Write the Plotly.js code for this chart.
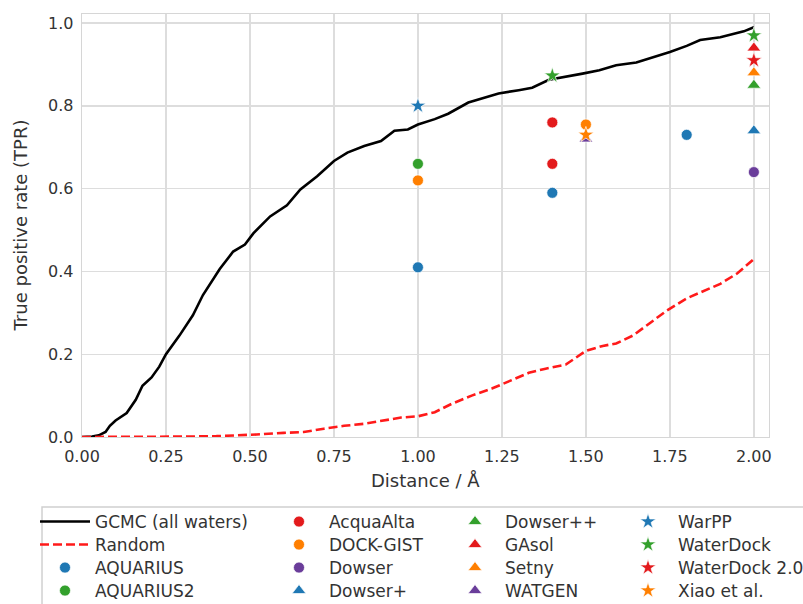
<!DOCTYPE html>
<html>
<head>
<meta charset="utf-8">
<script src="https://cdn.plot.ly/plotly-3.0.1.min.js"></script>
<style>html,body{margin:0;padding:0;background:#fff;}#chart{width:803px;height:604px;}</style>
</head>
<body>
<div id="chart"></div>
<script>
// GCMC (all waters) curve
const gcmcX = [0, 0.03, 0.05, 0.07, 0.083, 0.1, 0.133, 0.16, 0.18, 0.207, 0.23, 0.25, 0.29, 0.33, 0.36, 0.41, 0.45, 0.485, 0.51, 0.56, 0.61, 0.65, 0.70, 0.75, 0.79, 0.84, 0.89, 0.93, 0.97, 1.0, 1.05, 1.09, 1.15, 1.19, 1.24, 1.3, 1.34, 1.39, 1.44, 1.49, 1.54, 1.59, 1.65, 1.7, 1.75, 1.8, 1.84, 1.9, 1.94, 1.97, 2.0];
const gcmcY = [0, 0.001, 0.004, 0.012, 0.027, 0.04, 0.058, 0.09, 0.124, 0.144, 0.17, 0.2, 0.245, 0.294, 0.343, 0.406, 0.448, 0.465, 0.492, 0.533, 0.56, 0.598, 0.63, 0.667, 0.687, 0.703, 0.715, 0.74, 0.743, 0.755, 0.768, 0.781, 0.808, 0.817, 0.83, 0.838, 0.844, 0.863, 0.87, 0.878, 0.886, 0.898, 0.905, 0.918, 0.93, 0.945, 0.959, 0.966, 0.975, 0.98, 0.99];

// Random baseline curve
const randX = [0, 0.1, 0.2, 0.3, 0.4, 0.45, 0.52, 0.6, 0.66, 0.72, 0.78, 0.84, 0.9, 0.95, 1.0, 1.05, 1.1, 1.16, 1.22, 1.28, 1.33, 1.38, 1.44, 1.5, 1.55, 1.59, 1.64, 1.69, 1.74, 1.8, 1.85, 1.9, 1.95, 2.0];
const randY = [0, 0, 0.0005, 0.001, 0.002, 0.003, 0.006, 0.01, 0.012, 0.02, 0.027, 0.032, 0.04, 0.047, 0.05, 0.06, 0.08, 0.1, 0.117, 0.137, 0.155, 0.165, 0.175, 0.208, 0.22, 0.226, 0.245, 0.275, 0.305, 0.335, 0.353, 0.37, 0.395, 0.43];

// Other methods
const methodNames = ['AQUARIUS', 'AQUARIUS2', 'AcquaAlta', 'DOCK-GIST', 'Dowser', 'Dowser+', 'Dowser++', 'GAsol', 'Setny', 'WATGEN', 'WarPP', 'WaterDock', 'WaterDock 2.0', 'Xiao et al.'];
const methodDist = [[1.0, 1.4, 1.8], [1.0], [1.4, 1.4], [1.0, 1.5], [2.0], [2.0], [2.0], [2.0], [2.0], [1.5], [1.0], [1.4, 2.0], [2.0], [1.5]];
const methodTPR = [[0.41, 0.59, 0.73], [0.66], [0.76, 0.66], [0.62, 0.755], [0.64], [0.74], [0.85], [0.94], [0.88], [0.72], [0.80], [0.873, 0.97], [0.91], [0.73]];

const xTicks = [0, 0.25, 0.5, 0.75, 1.0, 1.25, 1.5, 1.75, 2.0];
const yTicks = [0, 0.2, 0.4, 0.6, 0.8, 1.0];
const xTitle = 'Distance / Å';
const yTitle = 'True positive rate (TPR)';

// styles
const palette = ['#1f78b4', '#33a02c', '#e31a1c', '#ff7f00', '#6a3d9a'];
const FONT = 'DejaVu Sans, sans-serif';
const colPx = [35, 269, 445, 618];   // legend column left edges (px)
const rowPx = [521, 544, 567, 590];  // legend row centres (px)

const traces = [];
const legendDefs = {};
let entry = 0;
function nextLegend() {
  const id = entry === 0 ? 'legend' : 'legend' + (entry + 1);
  const col = Math.floor(entry / 4), row = entry % 4;
  legendDefs[id] = {
    xref: 'container', yref: 'container', x: colPx[col] / 803, y: 1 - (rowPx[row] - 17) / 604,
    xanchor: 'left', yanchor: 'top', orientation: 'v', borderwidth: 0, bgcolor: 'rgba(0,0,0,0)',
    itemwidth: 50, font: {family: FONT, size: 17, color: '#333333'}
  };
  entry++;
  return id;
}

traces.push({x: gcmcX, y: gcmcY, mode: 'lines', name: 'GCMC (all waters)', legend: nextLegend(),
  line: {color: '#000000', width: 2.6}});
traces.push({x: randX, y: randY, mode: 'lines', name: 'Random', legend: nextLegend(),
  line: {color: '#ff1a1a', width: 2.6, dash: '9px,4px'}});

methodNames.forEach(function(name, i) {
  const symbol = i < 5 ? 'circle' : (i < 10 ? 'triangle-up' : 'star');
  const size = i < 5 ? 11 : 12;
  traces.push({
    x: methodDist[i], y: methodTPR[i], mode: 'markers', name: name,
    legend: nextLegend(),
    marker: {symbol: symbol, size: size, color: palette[i % 5], line: {color: '#ffffff', width: 0.7}}
  });
});

const layout = Object.assign({
  width: 803, height: 604,
  paper_bgcolor: '#ffffff', plot_bgcolor: '#ffffff',
  margin: {l: 82, r: 34, t: 14, b: 167, autoexpand: false},
  font: {family: FONT, color: '#333333'},
  showlegend: true,
  xaxis: {
    range: [0, 2.045], tickvals: xTicks, tickformat: '.2f',
    showgrid: true, gridcolor: '#dddddd', gridwidth: 1.3, zeroline: false,
    showline: true, mirror: true, linecolor: '#d6d6d6', linewidth: 1.3,
    ticks: 'outside', ticklen: 4, tickcolor: 'rgba(0,0,0,0)',
    tickfont: {family: FONT, size: 16, color: '#333333'}
  },
  yaxis: {
    range: [0, 1.022], tickvals: yTicks, tickformat: '.1f',
    showgrid: true, gridcolor: '#dddddd', gridwidth: 1.3, zeroline: false,
    showline: true, mirror: true, linecolor: '#d6d6d6', linewidth: 1.3,
    ticks: 'outside', ticklen: 4, tickcolor: 'rgba(0,0,0,0)',
    tickfont: {family: FONT, size: 16, color: '#333333'}
  },
  annotations: [
    {text: xTitle, xref: 'paper', yref: 'paper', x: 0.5, y: (437 - 480) / 423,
     xanchor: 'center', yanchor: 'middle', showarrow: false,
     font: {family: FONT, size: 18, color: '#333333'}},
    {text: yTitle, xref: 'paper', yref: 'paper', x: (20 - 82) / 687, y: 0.5, textangle: -90,
     xanchor: 'center', yanchor: 'middle', showarrow: false,
     font: {family: FONT, size: 18, color: '#333333'}}
  ],
  shapes: [{
    type: 'rect', xref: 'paper', yref: 'paper',
    x0: -0.0582, x1: 1.067, y0: -0.421, y1: -0.1655,
    line: {color: '#d0d0d0', width: 1.5}, fillcolor: 'rgba(0,0,0,0)', layer: 'below'
  }]
}, legendDefs);

Plotly.newPlot('chart', traces, layout, {displayModeBar: false, staticPlot: true});
</script>
</body>
</html>
